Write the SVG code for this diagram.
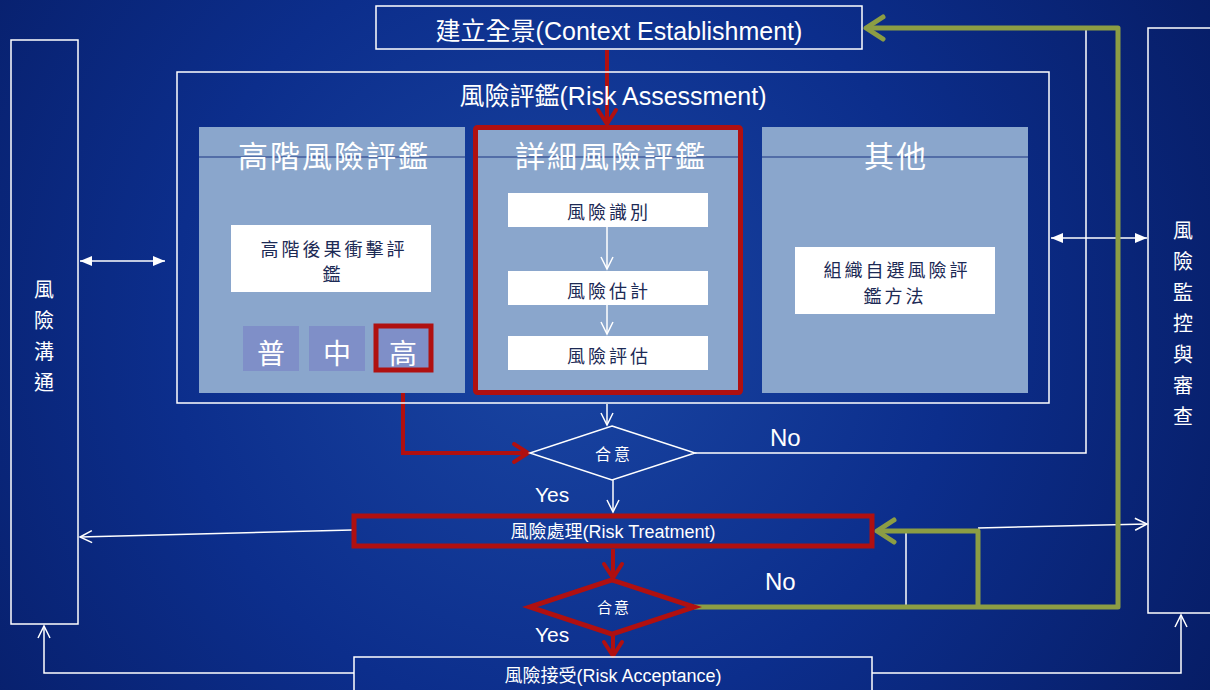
<svg xmlns="http://www.w3.org/2000/svg" width="1210" height="690" viewBox="0 0 1210 690">
<defs>
  <radialGradient id="bg" cx="560" cy="330" r="780" gradientUnits="userSpaceOnUse">
    <stop offset="0" stop-color="#1a46a3"/>
    <stop offset="0.5" stop-color="#0c2e8c"/>
    <stop offset="1" stop-color="#061b62"/>
  </radialGradient>
  <marker id="wOpen" markerUnits="userSpaceOnUse" markerWidth="16" markerHeight="16" refX="13" refY="7" orient="auto" overflow="visible">
    <path d="M1,1 L13,7 L1,13" fill="none" stroke="#fff" stroke-width="1.5"/>
  </marker>
  <marker id="wFill" markerUnits="userSpaceOnUse" markerWidth="14" markerHeight="12" refX="12" refY="5" orient="auto-start-reverse" overflow="visible">
    <path d="M0,0 L12,5 L0,10 Z" fill="#fff"/>
  </marker>
  <marker id="rHead" markerUnits="userSpaceOnUse" markerWidth="22" markerHeight="22" refX="15" refY="10" orient="auto" overflow="visible">
    <path d="M1,1 L15,10 L1,19" fill="none" stroke="#b01010" stroke-width="4" stroke-linecap="round" stroke-linejoin="round"/>
  </marker>
  <marker id="gHead" markerUnits="userSpaceOnUse" markerWidth="26" markerHeight="28" refX="19" refY="12" orient="auto" overflow="visible">
    <path d="M2,1 L19,12 L2,23" fill="none" stroke="#8c9d44" stroke-width="5" stroke-linecap="round" stroke-linejoin="round"/>
  </marker>
</defs>
<style>
  text { font-family: 'Liberation Sans','Noto Sans CJK TC',sans-serif; }
  .w { fill:#fff; }
  .box { fill:none; stroke:#fff; stroke-width:1.5; }
  .panel { fill:#8aa6cc; }
  .pline { stroke:#1a3582; stroke-width:1.2; }
  .wbox { fill:#fff; }
  .dark { fill:#1c2a55; font-size:18px; letter-spacing:3px; text-anchor:middle; }
  .title { fill:#fff; font-size:30px; letter-spacing:2px; text-anchor:middle; }
  .lvl { fill:#7f8fc8; }
  .lvlt { fill:#fff; font-size:28px; text-anchor:middle; }
  .red { fill:none; stroke:#b01010; stroke-width:5; }
  .wl { fill:none; stroke:#fff; stroke-width:1.5; }
  .rl { fill:none; stroke:#b01010; stroke-width:4; }
  .gl { fill:none; stroke:#8c9d44; stroke-width:5; stroke-linejoin:round; }
  .vt { fill:#fff; font-size:20px; text-anchor:middle; }
  .lab { fill:#fff; font-size:24px; }
</style>
<rect x="0" y="0" width="1210" height="690" fill="url(#bg)"/>

<g id="connectors">
  <line class="rl" x1="607" y1="50" x2="607" y2="124" marker-end="url(#rHead)"/>
  <line class="wl" x1="607" y1="404" x2="607" y2="425" marker-end="url(#wOpen)"/>
  <line class="wl" x1="613" y1="480" x2="613" y2="512" marker-end="url(#wOpen)"/>
  <path class="rl" d="M403,372 V453 H528" marker-end="url(#rHead)"/>
  <line class="rl" x1="613" y1="549" x2="613" y2="578" marker-end="url(#rHead)"/>
  <line class="rl" x1="613" y1="636" x2="613" y2="656" marker-end="url(#rHead)"/>
  <path class="wl" d="M695,453 H1086 V30"/>
  <path class="wl" d="M906,606 V531"/>
  <path class="wl" d="M978,528 L1147,524" marker-end="url(#wOpen)"/>
  <path class="wl" d="M352,530 L80,537" marker-end="url(#wOpen)"/>
  <path class="wl" d="M354,673 H44 V626" marker-end="url(#wOpen)"/>
  <path class="wl" d="M872,673 H1181 V615" marker-end="url(#wOpen)"/>
  <path class="wl" d="M80,261 H165" marker-start="url(#wFill)" marker-end="url(#wFill)"/>
  <path class="wl" d="M1051,238 H1147" marker-start="url(#wFill)" marker-end="url(#wFill)"/>
  <path class="gl" d="M694,607 H1118 V28 H866" marker-end="url(#gHead)"/>
  <path class="gl" d="M978,607 V531 H877" marker-end="url(#gHead)"/>
</g>

<g id="context">
  <rect class="box" x="376" y="6" width="486" height="43"/>
  <text class="w" x="619" y="40" font-size="25" text-anchor="middle">建立全景(Context Establishment)</text>
</g>

<g id="assessment">
  <rect class="box" x="177" y="72" width="872" height="331"/>
  <text class="w" x="613" y="105" font-size="25" text-anchor="middle">風險評鑑(Risk Assessment)</text>
</g>

<g id="highlevel">
  <rect class="panel" x="199" y="127" width="266" height="266"/>
  <line class="pline" x1="199" y1="157" x2="465" y2="157"/>
  <text class="title" x="334" y="167">高階風險評鑑</text>
  <rect class="wbox" x="231" y="225" width="200" height="67"/>
  <text class="dark" x="334" y="256">高階後果衝擊評</text>
  <text class="dark" x="333" y="281">鑑</text>
  <rect class="lvl" x="243" y="326" width="56" height="45"/>
  <text class="lvlt" x="271" y="364">普</text>
  <rect class="lvl" x="309" y="326" width="56" height="45"/>
  <text class="lvlt" x="337" y="364">中</text>
  <rect class="lvl" x="376" y="326" width="55" height="44"/>
  <rect class="red" x="376" y="326" width="55" height="44"/>
  <text class="lvlt" x="403" y="364">高</text>
</g>

<g id="detailed">
  <rect class="panel" x="476" y="128" width="264" height="264"/>
  <line class="pline" x1="476" y1="157" x2="740" y2="157"/>
  <rect class="red" x="475.5" y="127.5" width="265" height="265" rx="2"/>
  <text class="title" x="611" y="167">詳細風險評鑑</text>
  <rect class="wbox" x="508" y="193" width="200" height="34"/>
  <text class="dark" x="609" y="219">風險識別</text>
  <rect class="wbox" x="508" y="271" width="200" height="34"/>
  <text class="dark" x="609" y="298">風險估計</text>
  <rect class="wbox" x="508" y="336" width="200" height="34"/>
  <text class="dark" x="609" y="363">風險評估</text>
</g>

<g id="other">
  <rect class="panel" x="762" y="127" width="266" height="266"/>
  <line class="pline" x1="762" y1="157" x2="1028" y2="157"/>
  <text class="title" x="896" y="167">其他</text>
  <rect class="wbox" x="795" y="247" width="200" height="67"/>
  <text class="dark" x="897" y="277">組織自選風險評</text>
  <text class="dark" x="895" y="303">鑑方法</text>
</g>

<g id="communication">
  <rect class="box" x="11" y="40" width="67" height="584"/>
  <text class="vt" x="44" y="297">風</text>
  <text class="vt" x="44" y="328">險</text>
  <text class="vt" x="44" y="359">溝</text>
  <text class="vt" x="44" y="390">通</text>
</g>

<g id="monitoring">
  <rect class="box" x="1148" y="28" width="72" height="585"/>
  <text class="vt" x="1183" y="238">風</text>
  <text class="vt" x="1183" y="269">險</text>
  <text class="vt" x="1183" y="300">監</text>
  <text class="vt" x="1183" y="331">控</text>
  <text class="vt" x="1183" y="362">與</text>
  <text class="vt" x="1183" y="393">審</text>
  <text class="vt" x="1183" y="424">查</text>
</g>

<g id="decision1">
  <polygon class="box" points="612,426 695,453 612,480 530,453"/>
  <text class="w" x="614" y="460" font-size="16" letter-spacing="3" text-anchor="middle">合意</text>
  <text class="lab" x="770" y="446">No</text>
  <text class="w" x="535" y="502" font-size="21">Yes</text>
</g>

<g id="treatment">
  <rect class="red" x="354" y="516" width="518" height="30"/>
  <text class="w" x="613" y="538" font-size="18" text-anchor="middle">風險處理(Risk Treatment)</text>
</g>

<g id="decision2">
  <polygon class="red" points="612,580 694,607 612,634 530,607"/>
  <text class="w" x="614" y="613" font-size="15" letter-spacing="2" text-anchor="middle">合意</text>
  <text class="lab" x="765" y="590">No</text>
  <text class="w" x="535" y="642" font-size="21">Yes</text>
</g>

<g id="acceptance">
  <rect class="box" x="354" y="657" width="518" height="40"/>
  <text class="w" x="613" y="682" font-size="18" text-anchor="middle">風險接受(Risk Acceptance)</text>
</g>

<g id="inner-connectors">
  <line class="wl" x1="607" y1="227" x2="607" y2="269" marker-end="url(#wOpen)"/>
  <line class="wl" x1="607" y1="305" x2="607" y2="334" marker-end="url(#wOpen)"/>
</g>
</svg>
